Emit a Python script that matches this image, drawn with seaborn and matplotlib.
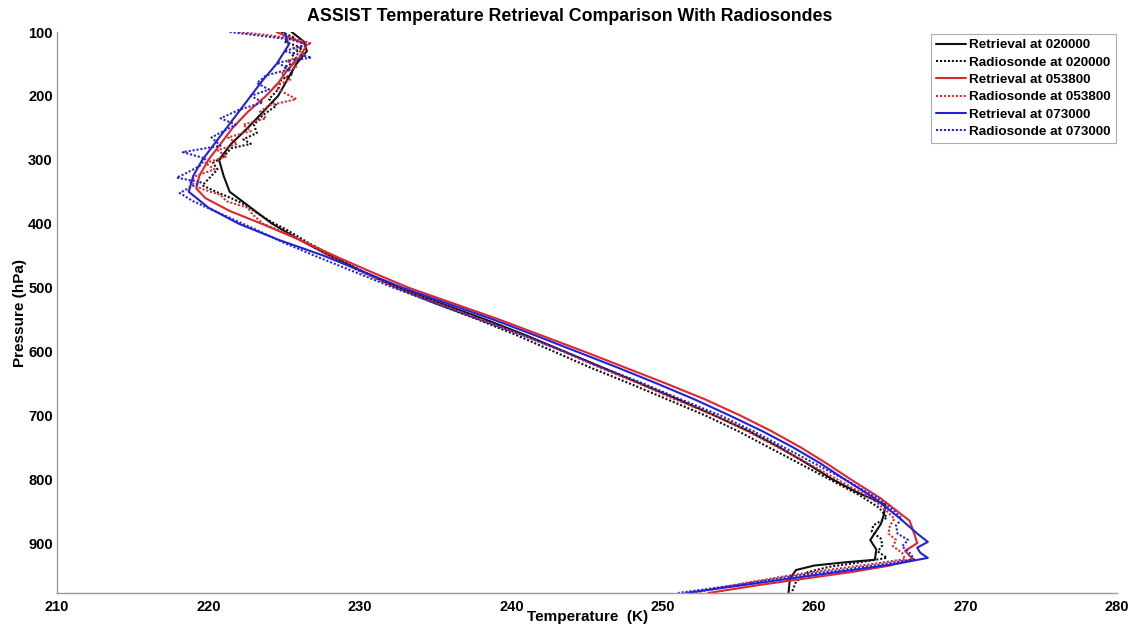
import matplotlib
matplotlib.use("Agg")
import matplotlib.pyplot as plt
import seaborn as sns
import pandas as pd

# ---------------- data ----------------
ret_020000_p = [100, 115, 130, 150, 175, 200, 225, 250, 275, 300, 325, 350, 375, 400, 425, 450, 475, 500, 525, 550, 575, 600, 625, 650, 675, 700, 725, 750, 775, 800, 820, 840, 855, 870, 895, 910, 926, 930, 935, 942, 955, 978]
ret_020000_t = [225.5, 226.3, 226.5, 225.8, 225.2, 224.6, 223.6, 222.6, 221.5, 220.7, 221.0, 221.4, 222.8, 224.2, 226.0, 228.0, 230.2, 232.5, 235.4, 238.3, 241.0, 243.5, 246.0, 248.5, 251.0, 253.4, 255.7, 257.7, 259.5, 261.2, 262.8, 264.7, 264.6, 264.4, 263.7, 264.1, 264.0, 262.0, 260.0, 258.8, 258.4, 258.3]

sonde_020000_p = [100, 108, 115, 125, 135, 145, 155, 165, 175, 190, 205, 215, 230, 245, 258, 268, 275, 282, 295, 305, 315, 330, 340, 350, 360, 370, 380, 395, 410, 430, 450, 475, 500, 525, 550, 575, 600, 625, 650, 675, 700, 725, 750, 775, 800, 825, 845, 860, 872, 882, 893, 903, 913, 923, 930, 937, 945, 960, 978]
sonde_020000_t = [224.8, 225.6, 225.0, 226.2, 225.5, 225.9, 225.0, 225.6, 224.8, 224.6, 224.0, 224.5, 223.6, 223.0, 223.2, 222.3, 222.8, 221.5, 221.0, 220.3, 220.6, 220.0, 219.6, 220.5, 221.5, 222.4, 223.0, 224.0, 225.2, 226.6, 228.2, 230.2, 232.4, 235.0, 237.8, 240.4, 242.8, 245.2, 247.8, 250.3, 252.8, 255.0, 257.0, 259.0, 261.0, 263.0, 264.3, 264.8, 263.9, 263.8, 264.4, 264.5, 264.2, 264.8, 263.0, 261.0, 259.6, 258.8, 258.5]

ret_053800_p = [100, 120, 140, 160, 180, 200, 225, 250, 275, 300, 325, 345, 360, 380, 400, 425, 450, 475, 500, 525, 550, 575, 600, 625, 650, 675, 700, 725, 750, 775, 800, 830, 865, 885, 900, 912, 925, 935, 945, 955, 965, 978]
ret_053800_t = [224.5, 226.5, 226.0, 225.2, 224.6, 223.8, 222.6, 221.6, 220.8, 220.0, 219.4, 219.2, 219.8, 221.4, 223.5, 226.0, 228.3, 230.7, 233.2, 236.2, 239.2, 242.0, 244.8, 247.5, 250.2, 252.8, 255.1, 257.2, 259.1, 260.8, 262.4, 264.4, 266.3, 266.6, 266.8, 266.0, 266.5, 265.0, 262.5, 259.5, 256.5, 253.0]

sonde_053800_p = [100, 105, 112, 118, 125, 135, 145, 155, 165, 175, 185, 195, 205, 215, 225, 235, 245, 255, 265, 275, 285, 295, 305, 315, 325, 335, 345, 355, 365, 375, 385, 400, 420, 445, 475, 500, 525, 550, 575, 600, 625, 650, 675, 700, 725, 750, 775, 800, 830, 850, 862, 872, 885, 895, 905, 915, 925, 932, 940, 950, 962, 978]
sonde_053800_t = [222.0, 224.0, 226.0, 226.8, 225.6, 226.4, 225.2, 225.8, 224.8, 225.4, 224.3, 225.0, 225.8, 224.0, 223.4, 223.8, 222.3, 222.8, 221.3, 221.9, 220.6, 221.2, 219.8, 220.4, 219.2, 218.8, 219.5, 220.8, 221.2, 222.6, 222.9, 223.6, 225.6, 227.6, 230.0, 232.4, 235.2, 238.0, 240.8, 243.4, 245.8, 248.4, 250.8, 253.4, 255.6, 257.6, 259.6, 261.5, 263.8, 264.8, 265.3, 265.0, 264.9, 265.4, 265.2, 265.8, 266.0, 264.0, 261.5, 258.5, 255.5, 252.0]

ret_073000_p = [100, 120, 150, 175, 200, 225, 250, 275, 300, 325, 350, 375, 400, 425, 450, 475, 500, 525, 550, 575, 600, 625, 650, 675, 700, 725, 750, 775, 800, 830, 860, 885, 898, 907, 915, 923, 932, 942, 955, 965, 978]
ret_073000_t = [225.0, 225.3, 224.5, 223.6, 222.8, 222.0, 221.2, 220.4, 219.6, 219.0, 218.7, 220.0, 222.0, 224.6, 227.6, 230.2, 232.8, 235.8, 238.8, 241.6, 244.3, 247.0, 249.6, 252.1, 254.4, 256.6, 258.6, 260.4, 262.0, 264.0, 265.6, 266.8, 267.5, 266.8, 267.0, 267.5, 265.5, 262.5, 258.5, 255.5, 251.5]

sonde_073000_p = [100, 106, 112, 120, 130, 140, 148, 158, 168, 180, 190, 200, 210, 222, 235, 245, 255, 265, 278, 288, 298, 310, 320, 328, 335, 343, 352, 365, 380, 395, 410, 430, 450, 475, 500, 525, 550, 575, 600, 625, 650, 675, 700, 725, 750, 775, 800, 830, 850, 862, 872, 885, 895, 905, 915, 925, 933, 942, 952, 965, 978]
sonde_073000_t = [221.4, 223.5, 225.5, 226.5, 225.0, 226.8, 224.5, 225.4, 223.8, 223.2, 224.0, 222.8, 223.6, 222.0, 220.8, 221.8, 221.0, 220.2, 220.8, 218.3, 219.8, 219.4, 218.6, 217.9, 219.5, 218.8, 218.1, 219.0, 220.4, 221.8, 223.2, 225.0, 227.0, 229.6, 232.2, 235.0, 237.9, 240.8, 243.5, 246.0, 248.7, 251.2, 253.8, 256.0, 258.0, 260.0, 262.0, 264.2, 265.3, 265.8, 265.4, 265.5, 266.2, 265.8, 266.3, 266.6, 264.5, 261.8, 258.5, 255.0, 251.0]

series_labels = ["Retrieval at 020000", "Radiosonde at 020000",
                 "Retrieval at 053800", "Radiosonde at 053800",
                 "Retrieval at 073000", "Radiosonde at 073000"]
x_ticks = [210, 220, 230, 240, 250, 260, 270, 280]
y_ticks = [100, 200, 300, 400, 500, 600, 700, 800, 900]

# ---------------- plot ----------------
sns.set_theme(style="white")
plt.rcParams['font.family'] = ['Liberation Sans', 'DejaVu Sans']
plt.rcParams['font.weight'] = 'bold'
plt.rcParams['text.color'] = 'black'
plt.rcParams['axes.labelcolor'] = 'black'
plt.rcParams['xtick.color'] = 'black'
plt.rcParams['ytick.color'] = 'black'

fig = plt.figure(figsize=(11.33, 6.30), dpi=100)
ax = fig.add_axes([0.0503, 0.0587, 0.9357, 0.8905])

dotted = (0, (1, 0.9))
series = [
    (ret_020000_t, ret_020000_p, "#111111", "-"),
    (sonde_020000_t, sonde_020000_p, "#111111", dotted),
    (ret_053800_t, ret_053800_p, "#e0262a", "-"),
    (sonde_053800_t, sonde_053800_p, "#e0262a", dotted),
    (ret_073000_t, ret_073000_p, "#2323d6", "-"),
    (sonde_073000_t, sonde_073000_p, "#2323d6", dotted),
]
for (t, p, c, ls), lab in zip(series, series_labels):
    df = pd.DataFrame({"T": t, "P": p})
    sns.lineplot(data=df, x="T", y="P", sort=False, estimator=None, ax=ax,
                 color=c, linestyle=ls, linewidth=1.5, label=lab)

ax.set_xlim(210, 280)
ax.set_ylim(978, 100)
ax.set_xticks(x_ticks)
ax.set_yticks(y_ticks)
ax.tick_params(axis='both', direction='in', length=7, width=0.8, labelsize=10.5)
ax.tick_params(axis='x', pad=5)
ax.tick_params(axis='y', pad=3)
for lbl in ax.get_xticklabels() + ax.get_yticklabels():
    lbl.set_fontweight('bold')
for line in ax.xaxis.get_ticklines() + ax.yaxis.get_ticklines():
    line.set_markeredgecolor('#999999')
for s in ['top', 'right']:
    ax.spines[s].set_visible(False)
for s in ['left', 'bottom']:
    ax.spines[s].set_color('#999999')
    ax.spines[s].set_linewidth(1.0)

ax.set_xlabel("Temperature  (K)", fontsize=11, fontweight='bold', labelpad=-3)
ax.set_ylabel("Pressure (hPa)", fontsize=11, fontweight='bold', labelpad=1)
ax.set_title("ASSIST Temperature Retrieval Comparison With Radiosondes",
             fontsize=12.8, fontweight='bold', x=0.484, y=1.0, pad=8)

leg = ax.legend(loc='upper right', bbox_to_anchor=(0.9985, 0.996), frameon=True,
                fancybox=False, edgecolor='#999999', fontsize=9.7,
                handlelength=2.2, handletextpad=0.25, borderpad=0.35,
                labelspacing=0.36, borderaxespad=0.0)
leg.get_frame().set_linewidth(0.8)
for txt in leg.get_texts():
    txt.set_fontweight('bold')

fig.savefig("out.png", dpi=100, facecolor='white')
